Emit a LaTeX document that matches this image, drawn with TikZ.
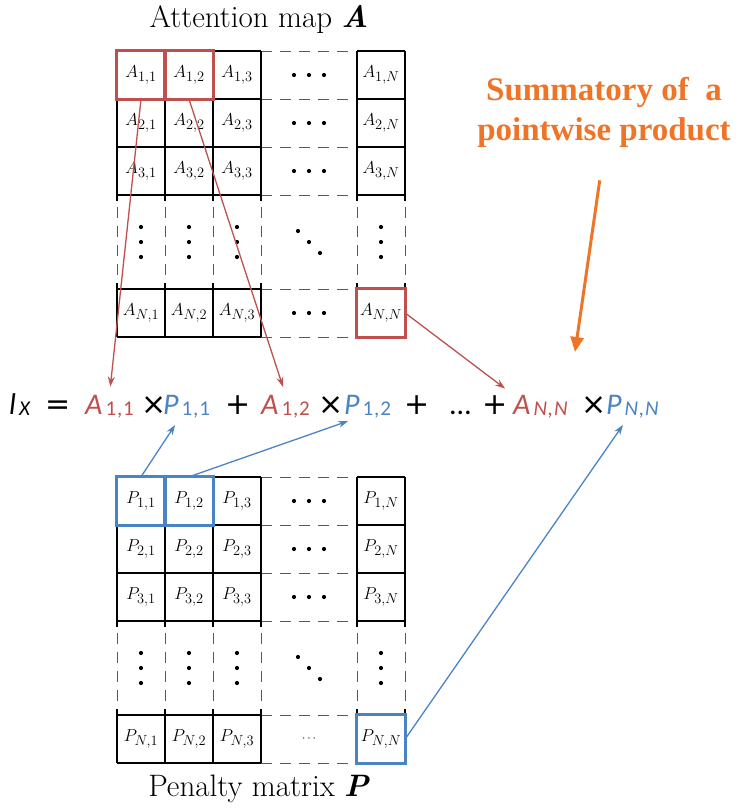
\documentclass[tikz,border=0pt]{standalone}
\usepackage[no-math]{fontspec}
\usepackage{graphicx}
\usetikzlibrary{arrows.meta,calc,positioning}
\newfontfamily\eqfont{Carlito}
\newfontfamily\opfont{DejaVu Sans}
\newfontfamily\notefont{Liberation Serif}
\definecolor{attred}{HTML}{C0504D}
\definecolor{penblue}{HTML}{4A84C4}
\definecolor{sumorange}{HTML}{EE7427}
\newcommand{\eqsub}[1]{\kern3pt\raisebox{-1.5pt}{\fontsize{21}{21}\selectfont\addfontfeature{LetterSpace=4}#1}}

\begin{document}
\begin{tikzpicture}[x=1pt,y=-1pt,
  cell/.style={minimum width=48pt,minimum height=48pt,inner sep=0pt,font=\fontsize{19}{21}\selectfont},
  rule/.style={line width=1.6pt},
  gaprule/.style={line width=1pt,black!65,dash pattern=on 11pt off 8pt},
  pick/.style={line width=3pt},
  link/.style={line width=1.3pt,-{Stealth[length=10pt,width=7pt]}},
  term/.style={inner sep=0pt,anchor=base west,font=\eqfont\fontsize{30}{32}\selectfont},
  title/.style={font=\fontsize{31}{34}\selectfont}]
  \useasboundingbox (0,0) rectangle (742,811);

  % both matrices share one layout, P is drawn 426 lower
  \foreach \m/\dy in {A/0,P/426}{
    \begin{scope}[shift={(0,\dy)}]
      \foreach \r/\ry in {1/75,2/123,3/171,N/313}
        \foreach \c/\cx in {1/141,2/189,3/237,N/381}
          \node[cell] (\m\r\c) at (\cx,\ry) {$\m_{\r,\c}$};
      \foreach \y in {51,99,147,195,289,337}{
        \draw[rule] (117,\y) -- (261,\y);
        \draw[gaprule] (261,\y) -- (357,\y);
        \draw[rule] (357,\y) -- (405,\y);
      }
      \foreach \x in {117,165,213,261,357,405}{
        \draw[rule] (\x,51) -- (\x,201);
        \draw[gaprule] (\x,207) -- (\x,283);
        \draw[rule] (\x,283) -- (\x,337);
      }
      \foreach \ry in {75,123,171}
        \foreach \d in {-15,0,15}
          \fill (309+\d,\ry) circle (2.1pt);
      \foreach \cx in {141,189,237,381}
        \foreach \d in {-15,0,15}
          \fill (\cx,242+\d) circle (2.1pt);
      \foreach \d in {-11,0,11}
        \fill (309+\d,242+\d) circle (2.1pt);
    \end{scope}
  }
  \foreach \d in {-15,0,15} \fill (309+\d,313) circle (2.1pt);
  \node[cell,font=\fontsize{13}{15}\selectfont] (PNgap) at (309,739) {$\cdots$};

  \node[title] (Atitle) at (259,20) {Attention map \textit{\textbf{A}}};
  \node[title] (Ptitle) at (259,789) {Penalty matrix \textit{\textbf{P}}};

  % picked cells
  \foreach \n in {A11,A12,ANN}
    \draw[pick,attred] (\n.north west) rectangle (\n.south east);
  \foreach \n in {P11,P12,PNN}
    \draw[pick,penblue] (\n.north west) rectangle (\n.south east);

  % the sum
  \node[term] (lx) at (9,414) {\textit{l}\eqsub{\textit{X}}};
  \node[term] (eqs) at (45,414) {\opfont =};
  \node[term,attred] (a11) at (85,414) {\textit{A}\eqsub{1,1}};
  \node[term] (x1) at (141,414) {\opfont ×};
  \node[term,penblue] (p11) at (163,414) {\textit{P}\eqsub{1,1}};
  \node[term] (pl1) at (225,414) {\opfont +};
  \node[term,attred] (a12) at (261,414) {\textit{A}\eqsub{1,2}};
  \node[term] (x2) at (318,414) {\opfont ×};
  \node[term,penblue] (p12) at (344,414) {\textit{P}\eqsub{1,2}};
  \node[term] (pl2) at (404,414) {\opfont +};
  \node[term] (ell) at (450,414) {…};
  \node[term] (pl3) at (482,414) {\opfont +};
  \node[term,attred] (ann) at (513,414) {\textit{A}\eqsub{\textit{N,N}}};
  \node[term] (x3) at (581,414) {\opfont ×};
  \node[term,penblue] (pnn) at (606,414) {\textit{P}\eqsub{\textit{N,N}}};

  \draw[link,attred,shorten >=8pt] (A11.south) -- (a11.north);
  \draw[link,attred,shorten >=8pt] (A12.south) -- (a12.north);
  \draw[link,attred,shorten >=10pt] (ANN.east) -- (ann.north west);
  \draw[link,penblue,shorten >=8pt] (P11.north) -- ($(p11.south west)!.35!(p11.south east)$);
  \draw[link,penblue,shorten >=8pt] (P12.north) -- ($(p12.south west)!.25!(p12.south east)$);
  \draw[link,penblue,shorten >=8pt] (PNN.east) -- ($(pnn.south west)!.4!(pnn.south east)$);

  \node[font=\notefont\bfseries\fontsize{33}{40}\selectfont,text=sumorange,align=center] (sumnote) at (604,112) {Summatory of\ \ a\\pointwise product};
  \coordinate (sumtip) at (575,352);
  \draw[sumorange,line width=3pt,shorten <=30pt,-{Triangle[length=15pt,width=13pt]}] (sumnote.south) -- (sumtip);
\end{tikzpicture}
\end{document}
